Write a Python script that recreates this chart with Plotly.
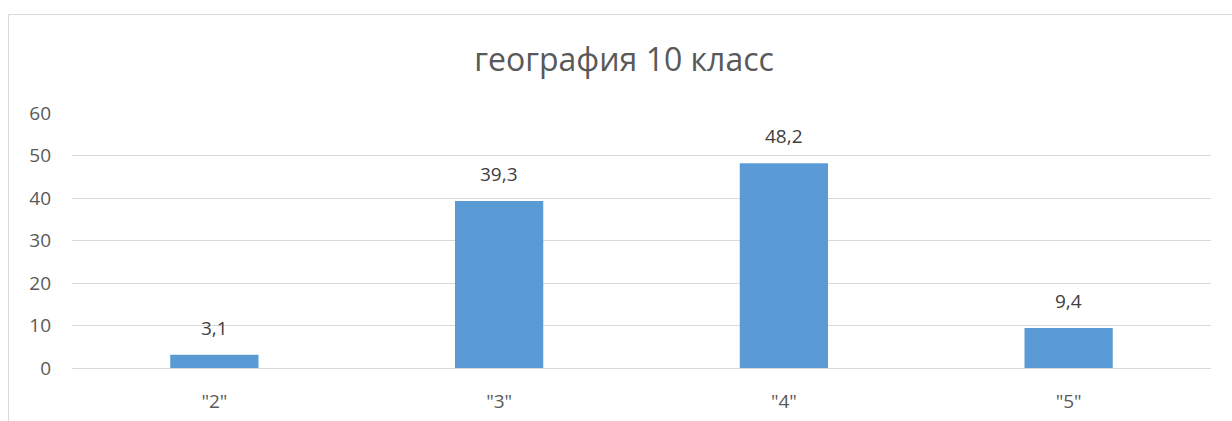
import plotly.graph_objects as go

categories = ['"2"', '"3"', '"4"', '"5"']
values = [3.1, 39.3, 48.2, 9.4]
title_text = "география 10 класс"
y_ticks = [0, 10, 20, 30, 40, 50, 60]

W, H = 1232, 421
ml, mr, mt, mb = 72, 21, 113, 53
pw, ph = W - ml - mr, H - mt - mb

fig = go.Figure()
fig.add_trace(go.Bar(
    x=categories, y=values,
    marker=dict(color="#5B9BD5", line=dict(width=0)),
    width=0.31,
    hoverinfo="skip",
))

for c, v in zip(categories, values):
    fig.add_annotation(
        x=c, y=v, text=f"{v:.1f}".replace(".", ","),
        showarrow=False, yanchor="bottom", yshift=12,
        font=dict(family="Open Sans", size=19, color="#404040"),
    )

def px_to_paper_x(px):
    return (px - ml) / pw

def px_to_paper_y(py):
    return (H - mb - py) / ph

# chart frame border (left and top)
fig.add_shape(type="line", xref="paper", yref="paper",
              x0=px_to_paper_x(8.5), x1=px_to_paper_x(8.5),
              y0=px_to_paper_y(430), y1=px_to_paper_y(14.5),
              line=dict(color="#d9d9d9", width=1))
fig.add_shape(type="line", xref="paper", yref="paper",
              x0=px_to_paper_x(8.5), x1=px_to_paper_x(1240),
              y0=px_to_paper_y(14.5), y1=px_to_paper_y(14.5),
              line=dict(color="#d9d9d9", width=1))

fig.update_layout(
    width=W, height=H,
    margin=dict(l=ml, r=mr, t=mt, b=mb, autoexpand=False),
    paper_bgcolor="white", plot_bgcolor="white",
    showlegend=False,
    title=dict(text=title_text, x=624 / W, xref="container", xanchor="center",
               y=1 - 60 / H, yanchor="middle",
               font=dict(family="Open Sans", size=32, color="#595959")),
    font=dict(family="Open Sans", color="#595959"),
    xaxis=dict(showgrid=False, showline=False, zeroline=False,
               tickfont=dict(size=19, color="#595959"),
               ticklabelstandoff=20, automargin=False, fixedrange=True),
    yaxis=dict(range=[0, 60], tickvals=y_ticks, showgrid=True,
               gridcolor="#d9d9d9", gridwidth=1,
               zeroline=True, zerolinecolor="#d9d9d9", zerolinewidth=1,
               showline=False,
               tickfont=dict(size=19, color="#595959"),
               ticklabelstandoff=20, automargin=False, fixedrange=True),
)

fig.write_html(
    "out.html",
    config={"displayModeBar": False},
    post_script="document.body.style.margin='0';document.body.style.overflow='hidden';",
)
